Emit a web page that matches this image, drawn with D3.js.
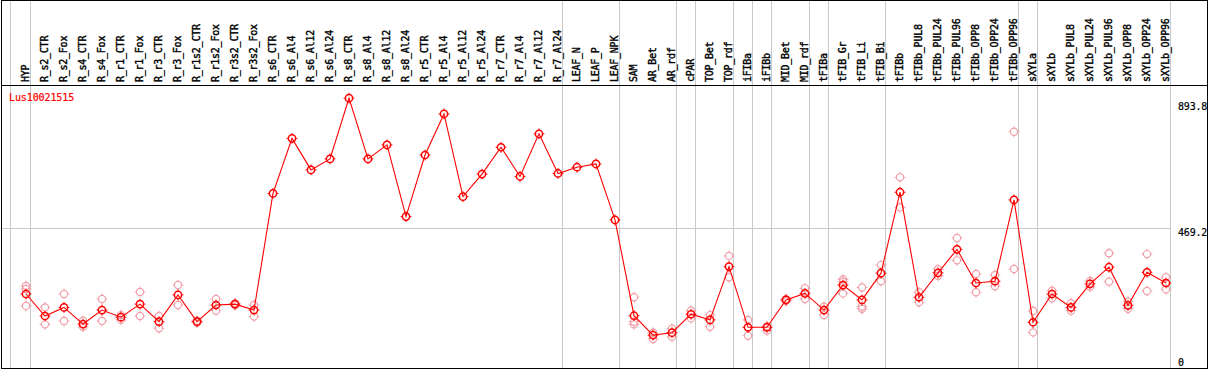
<!DOCTYPE html>
<html><head><meta charset="utf-8">
<script src="https://cdn.jsdelivr.net/npm/d3@7"></script>
<style>body{margin:0;background:#fff;} svg{display:block;}</style>
</head><body>
<svg id="c" width="1209" height="370"></svg>
<script>
const categories = ["HYP","R_s2_CTR","R_s2_Fox","R_s4_CTR","R_s4_Fox","R_r1_CTR","R_r1_Fox","R_r3_CTR","R_r3_Fox","R_r1s2_CTR","R_r1s2_Fox","R_r3s2_CTR","R_r3s2_Fox","R_s6_CTR","R_s6_Al4","R_s6_Al12","R_s6_Al24","R_s8_CTR","R_s8_Al4","R_s8_Al12","R_s8_Al24","R_r5_CTR","R_r5_Al4","R_r5_Al12","R_r5_Al24","R_r7_CTR","R_r7_Al4","R_r7_Al12","R_r7_Al24","LEAF_N","LEAF_P","LEAF_NPK","SAM","AR_Bet","AR_rdf","cPAR","TOP_Bet","TOP_rdf","iFIBa","iFIBb","MID_Bet","MID_rdf","tFIBa","tFIB_Gr","tFIB_Li","tFIB_Bi","tFIBb","tFIBb_PUL8","tFIBb_PUL24","tFIBb_PUL96","tFIBb_OPP8","tFIBb_OPP24","tFIBb_OPP96","sXYLa","sXYLb","sXYLb_PUL8","sXYLb_PUL24","sXYLb_PUL96","sXYLb_OPP8","sXYLb_OPP24","sXYLb_OPP96"];

const means = [247,173,202,146,193,169,213,154,244,154,210,213,193,
  585,770,664,701,905,701,748,507,714,852,574,650,740,642,785,652,673,684,496,
  174,109,117,179,160,339,135,135,227,249,193,277,227,317,589,236,318,397,284,290,563,152,247,202,281,337,209,320,284];

const replicates = [
  [274,264,207],[202,145],[247,156],[157,137],[230,156],[176,160],[254,173],[173,132],[277,210],[157,151],[230,191],[216,209],[210,171],
  [],[],[],[],[],[],[],[],[],[],[],[],[],[],[],[],[],[],[],
  [236,154,145],[117,96],[130,103],[191,165],[176,137],[375,303],[160,107],[139,124],[230,223],[266,230],[204,176],[296,288,249],[269,205,197],[344,290],
  [639,538],[253,219],[330,308],[435,360],[314,253],[311,273],[792,331],[190,118],[258,233],[216,191],[291,271],[384,288],[221,197],[381,257],[303,263]
];

const yTickValues = [893.8, 469.2, 0];
const yTickLabels = ["893.8", "469.2", "0"];
const gridValues = [469.2];
const separatorsAfter = ["HYP","R_r7_Al24","LEAF_NPK","AR_rdf","cPAR","TOP_rdf","iFIBa","iFIBb","MID_rdf","tFIBa","tFIB_Bi","tFIBb_OPP96","sXYLa","sXYLb_OPP96"];
const geneName = "Lus10021515";

const W = 1209, H = 370;
const svg = d3.select("#c");
const x = d3.scalePoint().domain(categories).range([26, 1166]);
const y = d3.scaleLinear().domain([0, 893.8]).range([367.5, 101.5]);
const plotRight = x(categories[categories.length - 1]) + 4.5;
const font = "'DejaVu Sans Mono', monospace";
const mainColor = "#ff0000", repColor = "#f0a0a8", gridColor = "#c8c8c8";

svg.append("rect").attr("width", W).attr("height", H).attr("fill", "#fff");

// vertical separators
const sepX = [x(categories[0]) - 15.5].concat(separatorsAfter.map(c => x(c) + 4.5));
svg.selectAll("line.vsep").data(sepX).enter().append("line")
  .attr("x1", d => d).attr("x2", d => d).attr("y1", 0).attr("y2", 368.5)
  .attr("stroke", gridColor).attr("stroke-width", 1);

// horizontal grid
svg.selectAll("line.hgrid").data(gridValues).enter().append("line")
  .attr("x1", 1.5).attr("x2", plotRight)
  .attr("y1", d => Math.round(y(d)) + 0.5).attr("y2", d => Math.round(y(d)) + 0.5)
  .attr("stroke", gridColor).attr("stroke-width", 1);

// frame
svg.append("rect").attr("x", 1.5).attr("y", 0.5).attr("width", 1206).attr("height", 368)
  .attr("fill", "none").attr("stroke", "#000").attr("stroke-width", 1);
svg.append("line").attr("x1", 1.5).attr("x2", 1207.5).attr("y1", 85.5).attr("y2", 85.5)
  .attr("stroke", "#000").attr("stroke-width", 1);

// header labels
svg.selectAll("text.cat").data(categories).enter().append("text")
  .attr("transform", d => `translate(${x(d)},82) rotate(-90)`)
  .attr("dy", "3.43px")
  .attr("font-family", font).attr("font-size", "10px").attr("letter-spacing", "-0.25px")
  .attr("fill", "#000").attr("stroke", "#000").attr("stroke-width", 0.4)
  .text(d => d);

// marker builder
function marker(g, r, color, sw) {
  g.append("circle").attr("r", r).attr("fill", "none").attr("stroke", color).attr("stroke-width", sw);
  const t = r + 1.8;
  g.append("path")
    .attr("d", `M0,${-r}V${-t}M0,${r}V${t}M${-r},0H${-t}M${r},0H${t}`)
    .attr("stroke", color).attr("stroke-width", 1);
}

// replicates
const repPts = [];
replicates.forEach((arr, i) => arr.forEach(v => repPts.push({c: categories[i], v})));
svg.selectAll("g.rep").data(repPts).enter().append("g")
  .attr("transform", d => `translate(${x(d.c)},${y(d.v)})`)
  .each(function() { marker(d3.select(this), 3.6, repColor, 1.2); });

// mean line
const pts = categories.map((c, i) => ({c, v: means[i]}));
svg.append("path").datum(pts)
  .attr("d", d3.line().x(d => x(d.c)).y(d => y(d.v)))
  .attr("fill", "none").attr("stroke", mainColor).attr("stroke-width", 1.1);

svg.selectAll("g.mean").data(pts).enter().append("g")
  .attr("transform", d => `translate(${x(d.c)},${y(d.v)})`)
  .each(function() { marker(d3.select(this), 3.6, mainColor, 1.5); });

// y labels
svg.selectAll("text.yl").data(yTickValues).enter().append("text")
  .attr("x", 1178)
  .attr("y", (d, i) => i === yTickValues.length - 1 ? y(d) - 1.5 : y(d) + 8)
  .attr("font-family", font).attr("font-size", "10px").attr("letter-spacing", "-0.2px")
  .attr("fill", "#000").attr("stroke", "#000").attr("stroke-width", 0.2)
  .text((d, i) => yTickLabels[i]);

// gene name
svg.append("text").attr("x", 9).attr("y", 101)
  .attr("font-family", font).attr("font-size", "10px").attr("letter-spacing", "-0.1px")
  .attr("fill", mainColor).attr("stroke", mainColor).attr("stroke-width", 0.2)
  .text(geneName);
</script>
</body></html>
